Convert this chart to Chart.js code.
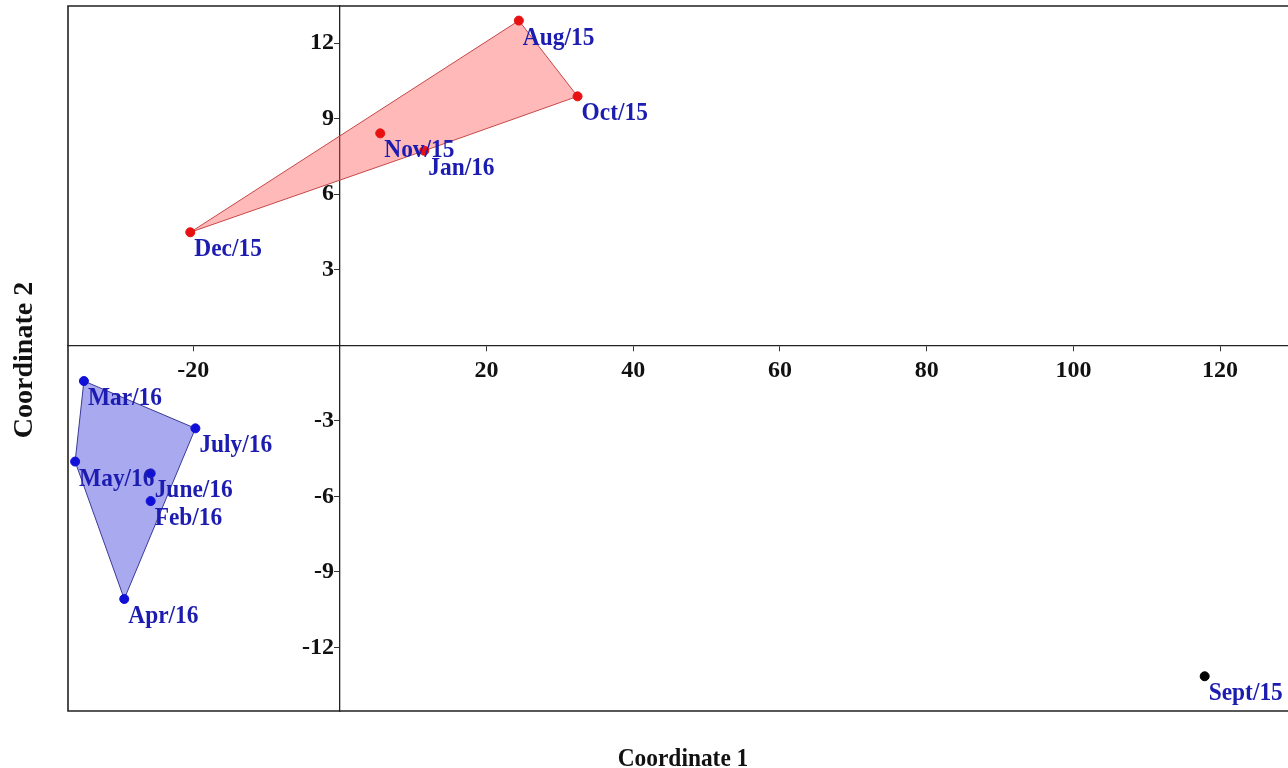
<!DOCTYPE html>
<html>
<head>
<meta charset="utf-8">
<script src="https://cdn.jsdelivr.net/npm/chart.js@4"></script>
<style>
  html, body { margin: 0; padding: 0; background: #fff; }
  #wrap { width: 1288px; height: 768px; }
</style>
</head>
<body>
<div id="wrap"><canvas id="pcoaChart" width="1288" height="768"></canvas></div>
<script>
// months and their ordination scores
const months = ['Aug/15', 'Sept/15', 'Oct/15', 'Nov/15', 'Dec/15', 'Jan/16',
                'Feb/16', 'Mar/16', 'Apr/16', 'May/16', 'June/16', 'July/16'];
const coord1 = [24.4, 117.9, 32.4, 5.5, -20.4, 11.5, -25.8, -34.9, -29.4, -36.1, -25.8, -19.7];
const coord2 = [12.9, -13.15, 9.89, 8.42, 4.49, 7.73, -6.19, -1.42, -10.08, -4.62, -5.09, -3.3];

// groups (indexes into months)
const redGroup = [0, 2, 3, 4, 5];
const blueGroup = [6, 7, 8, 9, 10, 11];
const blackGroup = [1];
// convex hull order
const redHull = [4, 0, 2, 5, 4];
const blueHull = [7, 11, 8, 9, 7];

const xTicks = [-20, 20, 40, 60, 80, 100, 120];
const yTicks = [-12, -9, -6, -3, 3, 6, 9, 12];

const serif = '"Liberation Serif", "Times New Roman", serif';

function pts(idx) {
    return idx.map(i => ({ x: coord1[i], y: coord2[i], name: months[i] }));
}

// frame, point labels and axis titles
const decorPlugin = {
    id: 'decor',
    beforeDraw(chart) {
        const { ctx, chartArea: a } = chart;
        ctx.save();
        ctx.fillStyle = '#fff';
        ctx.fillRect(0, 0, chart.width, chart.height);
        ctx.strokeStyle = '#222';
        ctx.lineWidth = 1.6;
        ctx.beginPath();
        ctx.moveTo(chart.width, a.top);
        ctx.lineTo(a.left, a.top);
        ctx.lineTo(a.left, a.bottom);
        ctx.lineTo(chart.width, a.bottom);
        ctx.stroke();
        ctx.restore();
    },
    afterDatasetsDraw(chart) {
        const { ctx } = chart;
        const xs = chart.scales.x, ys = chart.scales.y;
        ctx.save();
        ctx.fillStyle = '#1c1cb0';
        ctx.font = 'bold 26px ' + serif;
        ctx.textAlign = 'left';
        ctx.textBaseline = 'alphabetic';
        months.forEach((m, i) => {
            const px = xs.getPixelForValue(coord1[i]);
            const py = ys.getPixelForValue(coord2[i]);
            ctx.save();
            ctx.translate(px + 4, py + 24);
            ctx.scale(0.9, 1);
            ctx.fillText(m, 0, 0);
            ctx.restore();
        });

        // axis titles
        ctx.fillStyle = '#111';
        ctx.textAlign = 'center';
        ctx.save();
        ctx.translate(683, 766);
        ctx.scale(0.9, 1);
        ctx.fillText('Coordinate 1', 0, 0);
        ctx.restore();
        ctx.save();
        ctx.translate(32, 360);
        ctx.rotate(-Math.PI / 2);
        ctx.font = 'bold 28px ' + serif;
        ctx.fillText('Coordinate 2', 0, 0);
        ctx.restore();
        ctx.restore();
    }
};

const ctx = document.getElementById('pcoaChart');
new Chart(ctx, {
    type: 'scatter',
    data: {
        datasets: [
            {
                label: 'group 1',
                data: pts(redGroup),
                backgroundColor: '#e81010',
                borderColor: '#e81010',
                pointRadius: 4.5
            },
            {
                label: 'group 2',
                data: pts(blueGroup),
                backgroundColor: '#1010d8',
                borderColor: '#1010d8',
                pointRadius: 4.5
            },
            {
                label: 'outlier',
                data: pts(blackGroup),
                backgroundColor: '#000',
                borderColor: '#000',
                pointRadius: 4.5
            },
            {
                label: 'hull 1',
                data: pts(redHull),
                showLine: true,
                fill: 'shape',
                tension: 0,
                pointRadius: 0,
                borderWidth: 1,
                borderColor: '#c84848',
                backgroundColor: 'rgba(255, 70, 70, 0.38)'
            },
            {
                label: 'hull 2',
                data: pts(blueHull),
                showLine: true,
                fill: 'shape',
                tension: 0,
                pointRadius: 0,
                borderWidth: 1,
                borderColor: '#3a3a98',
                backgroundColor: 'rgba(60, 60, 220, 0.44)'
            }
        ]
    },
    options: {
        responsive: false,
        animation: false,
        layout: {
            autoPadding: false,
            padding: { left: 68, top: 6, right: 0, bottom: 57 }
        },
        plugins: {
            legend: { display: false },
            tooltip: { enabled: false }
        },
        scales: {
            x: {
                type: 'linear',
                position: { y: 0 },
                min: -37.07,
                max: 129.26,
                afterBuildTicks: (scale) => {
                    scale.ticks = xTicks.map(v => ({ value: v }));
                },
                grid: {
                    drawOnChartArea: false,
                    drawTicks: true,
                    tickLength: 5,
                    color: '#333'
                },
                border: { display: true, color: '#222', width: 1.3 },
                ticks: {
                    color: '#111',
                    padding: 6,
                    maxRotation: 0,
                    font: { family: serif, weight: 'bold', size: 24 }
                }
            },
            y: {
                type: 'linear',
                position: { x: 0 },
                min: -14.53,
                max: 13.48,
                afterBuildTicks: (scale) => {
                    scale.ticks = yTicks.map(v => ({ value: v }));
                },
                grid: {
                    drawOnChartArea: false,
                    drawTicks: true,
                    tickLength: 5,
                    color: '#333'
                },
                border: { display: true, color: '#222', width: 1.3 },
                ticks: {
                    color: '#111',
                    padding: 0,
                    // centred axis puts labels on the line, trailing space pushes them left
                    callback: (v) => v + ' ',
                    // small line height keeps the label padding from shrinking the plot area
                    font: { family: serif, weight: 'bold', size: 24, lineHeight: 0.4 }
                }
            }
        }
    },
    plugins: [decorPlugin]
});
</script>
</body>
</html>
